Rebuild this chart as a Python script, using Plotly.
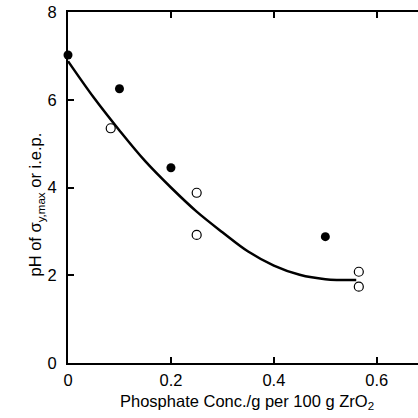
import plotly.graph_objects as go

# Filled circles
filled_x = [0.0, 0.10, 0.20, 0.50]
filled_y = [7.02, 6.25, 4.45, 2.88]

# Open circles
open_x = [0.083, 0.25, 0.25, 0.565, 0.565]
open_y = [5.35, 3.88, 2.92, 2.08, 1.74]

# Fitted curve
curve_x = [0.0, 0.05, 0.10, 0.15, 0.20, 0.25, 0.30, 0.35, 0.40, 0.45, 0.50, 0.56]
curve_y = [6.88, 6.05, 5.30, 4.60, 4.00, 3.45, 2.98, 2.54, 2.22, 2.01, 1.91, 1.89]

x_ticks = [0, 0.2, 0.4, 0.6]
x_tick_labels = ["0", "0.2", "0.4", "0.6"]
y_ticks = [0, 2, 4, 6, 8]

fig = go.Figure()
fig.add_trace(go.Scatter(x=curve_x, y=curve_y, mode="lines",
                         line=dict(color="black", width=2.5, shape="spline", smoothing=1.0),
                         showlegend=False, hoverinfo="skip"))
fig.add_trace(go.Scatter(x=filled_x, y=filled_y, mode="markers",
                         marker=dict(symbol="circle", size=9, color="black"),
                         showlegend=False, cliponaxis=False))
fig.add_trace(go.Scatter(x=open_x, y=open_y, mode="markers",
                         marker=dict(symbol="circle-open", size=9, color="black",
                                     line=dict(width=1.2, color="black")),
                         showlegend=False, cliponaxis=False))

fam = "Liberation Sans, Arial, sans-serif"
tickfont = dict(family=fam, size=16.5, color="black")

fig.update_layout(
    width=418, height=418,
    margin=dict(l=68, r=0, t=12, b=55),
    paper_bgcolor="white", plot_bgcolor="white",
    font=dict(family=fam, size=16, color="black"),
    xaxis=dict(range=[0, 0.68], tickvals=x_ticks, ticktext=x_tick_labels,
               ticks="inside", ticklen=6, tickwidth=1.5, tickcolor="black",
               showline=True, linewidth=2, linecolor="black", mirror="ticks",
               showgrid=False, zeroline=False, tickfont=tickfont, ticklabelstandoff=1),
    yaxis=dict(range=[0, 8], tickvals=y_ticks,
               ticks="inside", ticklen=6, tickwidth=1.5, tickcolor="black",
               showline=True, linewidth=2, linecolor="black", mirror=False,
               showgrid=False, zeroline=False, tickfont=tickfont, ticklabelstandoff=6),
    annotations=[
        dict(text="Phosphate Conc./g per 100 g ZrO<sub>2</sub>", xref="paper", yref="paper",
             x=0.51, y=-0.11, xanchor="center", yanchor="middle", showarrow=False,
             font=dict(family=fam, size=16.5, color="black")),
        dict(text="pH of σ<sub>y,max</sub> or i.e.p.", xref="paper", yref="paper",
             x=-0.09, y=0.45, xanchor="center", yanchor="middle", textangle=-90,
             showarrow=False,
             font=dict(family=fam, size=16.5, color="black")),
    ],
)

fig.write_html("out.html")
